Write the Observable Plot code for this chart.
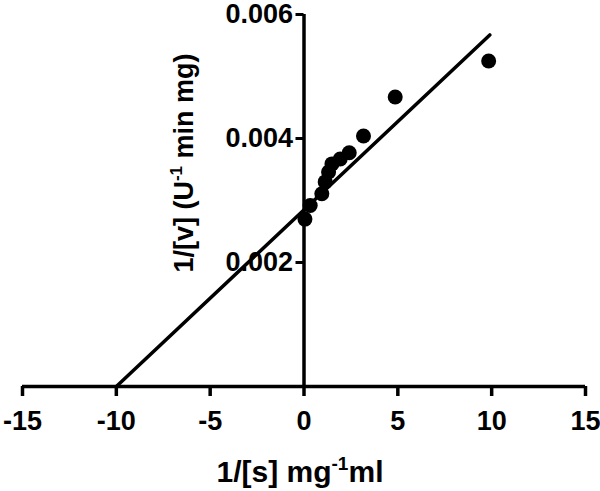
<!DOCTYPE html>
<html>
<head>
<meta charset="utf-8">
<script src="https://cdn.jsdelivr.net/npm/d3@7"></script>
<script src="https://cdn.jsdelivr.net/npm/@observablehq/plot@0.6"></script>
<style>
  html, body { margin: 0; padding: 0; background: #fff; }
  #chart { width: 600px; height: 491px; }
</style>
</head>
<body>
<div id="chart"></div>
<script>
// Data (Lineweaver–Burk plot)
const invS = [0.05, 0.33, 0.95, 1.13, 1.31, 1.49, 1.93, 2.41, 3.17, 4.86, 9.84];
const invV = [0.00270, 0.00292, 0.00311, 0.00330, 0.00346, 0.00359, 0.00367, 0.00377, 0.00404, 0.00467, 0.00525];
const fitX = [-10, 9.9];
const fitY = [0, 0.00567];
const xTicks = [-15, -10, -5, 0, 5, 10, 15];
const yTicks = [0.002, 0.004, 0.006];
const xLabel = ["1/[s] mg", "-1", "ml"];
const yLabel = ["1/[v] (U", "-1", " min mg)"];

const points = invS.map((x, i) => ({x, y: invV[i]}));
const fit = fitX.map((x, i) => ({x, y: fitY[i]}));

const W = 600, H = 491;
const mL = 22, mR = 15, mT = 14, mB = 105;
const zeroX = mL + (0 - (-15)) / 30 * (W - mL - mR);

const chart = Plot.plot({
  width: W, height: H,
  marginLeft: mL, marginRight: mR, marginTop: mT, marginBottom: mB,
  style: {fontFamily: "'Liberation Sans', Arial, sans-serif", fontWeight: "bold", background: "#fff", color: "#000", overflow: "visible"},
  x: {domain: [-15, 15]},
  y: {domain: [0, 0.006]},
  marks: [
    Plot.ruleY([0], {x1: -15, x2: 15, stroke: "#000", strokeWidth: 3.5}),
    Plot.ruleX([0], {y1: 0, y2: 0.006, stroke: "#000", strokeWidth: 3.5}),
    Plot.axisX({ticks: xTicks, tickSize: 10, tickPadding: 14, tickFormat: d => d3.format("d")(d).replace("−", "-"), label: null, fontSize: 27, strokeWidth: 3.5}),
    Plot.axisY({ticks: yTicks, tickSize: 8, tickPadding: 3, tickFormat: d3.format(".3f"), label: null, fontSize: 27, strokeWidth: 3, dx: zeroX - mL}),
    Plot.line(fit, {x: "x", y: "y", stroke: "#000", strokeWidth: 3.5}),
    Plot.dot(points, {x: "x", y: "y", r: 7.5, fill: "#000", stroke: "none"})
  ]
});

document.getElementById("chart").appendChild(chart);

const svg = d3.select(chart);
// x axis title
const xt = svg.append("text")
  .attr("x", 300).attr("y", 482)
  .attr("text-anchor", "middle")
  .style("font-family", "'Liberation Sans', Arial, sans-serif")
  .style("font-weight", "bold").style("font-size", "30px").attr("fill", "#000");
xt.append("tspan").text(xLabel[0]);
xt.append("tspan").attr("dy", -12).style("font-size", "19px").text(xLabel[1]);
xt.append("tspan").attr("dy", 12).text(xLabel[2]);

// y axis title
const yt = svg.append("text")
  .attr("transform", "translate(193,163) rotate(-90)")
  .attr("text-anchor", "middle")
  .style("font-family", "'Liberation Sans', Arial, sans-serif")
  .style("font-weight", "bold").style("font-size", "27px").attr("fill", "#000");
yt.append("tspan").text(yLabel[0]);
yt.append("tspan").attr("dy", -11).style("font-size", "17px").text(yLabel[1]);
yt.append("tspan").attr("dy", 11).text(yLabel[2]);
</script>
</body>
</html>
